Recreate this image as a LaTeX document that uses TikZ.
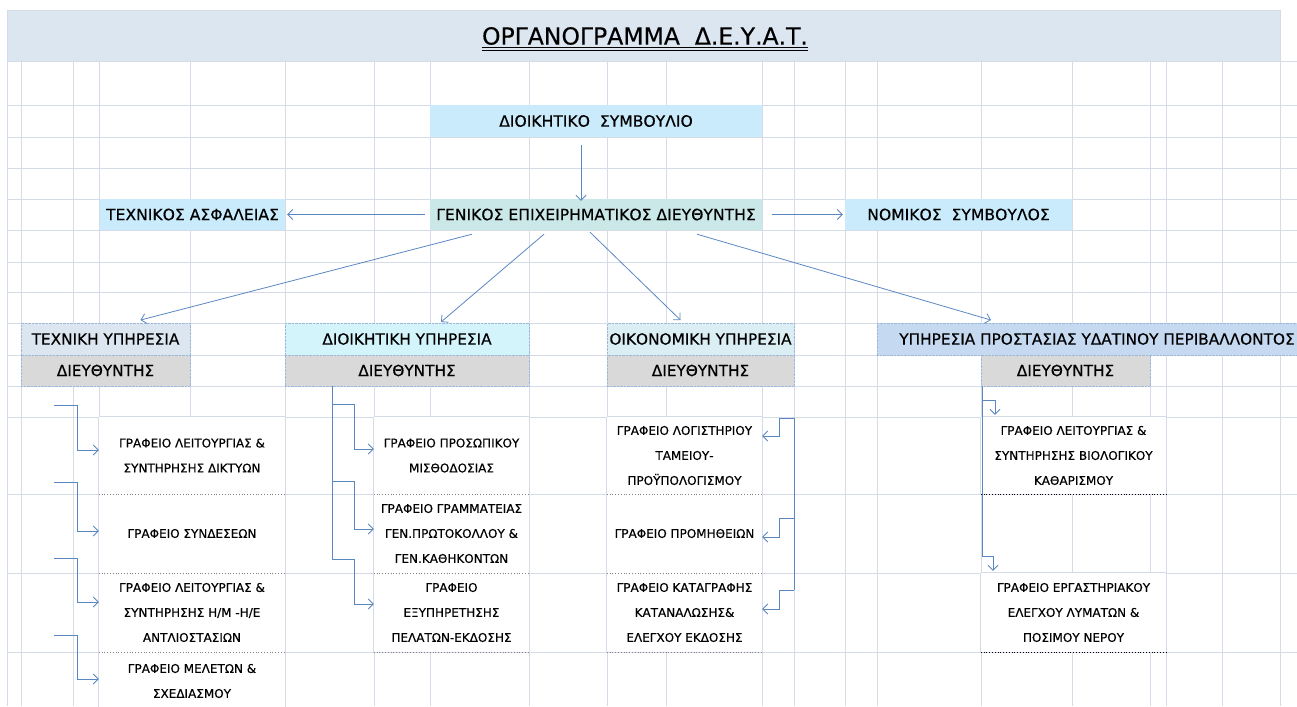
\documentclass[tikz,border=0pt]{standalone}
\usepackage{fontspec}
\setmainfont{DejaVu Sans}[FakeBold=0.4]
\usetikzlibrary{arrows.meta}
\definecolor{gridc}{HTML}{D5DCE8}
\definecolor{bandc}{HTML}{DCE6F1}
\definecolor{skyc}{HTML}{C9EBFC}
\definecolor{tealc}{HTML}{CBE8E8}
\definecolor{techc}{HTML}{DCE6F1}
\definecolor{adminc}{HTML}{D3F4FA}
\definecolor{econc}{HTML}{DAEEF3}
\definecolor{waterc}{HTML}{C5D9F1}
\definecolor{dirc}{HTML}{D9D9D9}
\definecolor{linkc}{HTML}{5B87C1}
\definecolor{dotc}{HTML}{9DB7DA}
\tikzset{
  gridline/.style={gridc, line width=0.8pt},
  headbox/.style={fill=skyc, inner sep=0pt, minimum height=31pt, font=\fontsize{15.6}{18}\selectfont},
  deptbox/.style={draw=dotc, densely dotted, inner sep=0pt, minimum height=31.5pt, font=\fontsize{15.3}{18}\selectfont},
  dirbox/.style={deptbox, fill=dirc},
  office/.style={fill=white, inner sep=0pt, align=center, font=\fontsize{12}{25}\selectfont},
  link/.style={linkc, line width=0.8pt},
  arr/.style={link, -{Straight Barb[length=5pt,width=10pt]}},
  sep/.style={gray, dotted, line width=0.8pt},
}
\begin{document}
\begin{tikzpicture}[x=1pt, y=-1pt]
\useasboundingbox (0,0) rectangle (1297,706);
% sheet
\filldraw[fill=bandc, draw=gridc] (7,10) rectangle (1280,61);
\foreach \x in {7,21,73,99,190,285,374,430,529,607,666,762,794,845,877,981,1072,1150,1166,1222,1280}
  \draw[gridline] (\x,61) -- (\x,706);
\foreach \y in {61,105,137,168,199,230,262,292,323,355,386,417,494,573,652}
  \draw[gridline] (7,\y) -- (1297,\y);

\node[font=\fontsize{23.5}{26}\selectfont, inner sep=0pt] (title) at (645,36) {ΟΡΓΑΝΟΓΡΑΜΜΑ\ \ Δ.Ε.Υ.Α.Τ.};
\draw[line width=1pt] ([yshift=-3pt]title.base west) -- ([yshift=-3pt]title.base east)
  ([yshift=-6pt]title.base west) -- ([yshift=-6pt]title.base east);

\node[headbox, minimum width=332pt, minimum height=32pt] (board) at (596,121) {ΔΙΟΙΚΗΤΙΚΟ\ \ ΣΥΜΒΟΥΛΙΟ};
\node[headbox, fill=tealc, minimum width=332pt] (gen) at (596,214.5) {ΓΕΝΙΚΟΣ ΕΠΙΧΕΙΡΗΜΑΤΙΚΟΣ ΔΙΕΥΘΥΝΤΗΣ};
\node[headbox, minimum width=185pt] (safety) at (192.5,214.5) {ΤΕΧΝΙΚΟΣ ΑΣΦΑΛΕΙΑΣ};
\node[headbox, minimum width=227pt] (legal) at (958.5,214.5) {ΝΟΜΙΚΟΣ\ \ ΣΥΜΒΟΥΛΟΣ};

\node[deptbox, fill=techc, minimum width=169pt] (tech) at (105.5,339) {ΤΕΧΝΙΚΗ ΥΠΗΡΕΣΙΑ};
\node[dirbox, minimum width=169pt] (techdir) at (105.5,370.5) {ΔΙΕΥΘΥΝΤΗΣ};
\node[deptbox, fill=adminc, minimum width=244pt] (admin) at (407,339) {ΔΙΟΙΚΗΤΙΚΗ ΥΠΗΡΕΣΙΑ};
\node[dirbox, minimum width=244pt] (admindir) at (407,370.5) {ΔΙΕΥΘΥΝΤΗΣ};
\node[deptbox, fill=econc, minimum width=187pt] (econ) at (700.5,339) {ΟΙΚΟΝΟΜΙΚΗ ΥΠΗΡΕΣΙΑ};
\node[dirbox, minimum width=187pt] (econdir) at (700.5,370.5) {ΔΙΕΥΘΥΝΤΗΣ};
\node[deptbox, fill=waterc, minimum width=440pt] (water) at (1097,339) {ΥΠΗΡΕΣΙΑ ΠΡΟΣΤΑΣΙΑΣ ΥΔΑΤΙΝΟΥ ΠΕΡΙΒΑΛΛΟΝΤΟΣ};
\node[dirbox, minimum width=169pt] (waterdir) at (1065.5,370.5) {ΔΙΕΥΘΥΝΤΗΣ};

\node[office, minimum width=186pt, minimum height=77pt] (t1) at (192,455.5) {ΓΡΑΦΕΙΟ ΛΕΙΤΟΥΡΓΙΑΣ \&\\ΣΥΝΤΗΡΗΣΗΣ ΔΙΚΤΥΩΝ};
\node[office, minimum width=186pt, minimum height=79pt] (t2) at (192,533.5) {ΓΡΑΦΕΙΟ ΣΥΝΔΕΣΕΩΝ};
\node[office, minimum width=186pt, minimum height=79pt] (t3) at (192,612.5) {ΓΡΑΦΕΙΟ ΛΕΙΤΟΥΡΓΙΑΣ \&\\ΣΥΝΤΗΡΗΣΗΣ Η/Μ -Η/Ε\\ΑΝΤΛΙΟΣΤΑΣΙΩΝ};
\node[office, minimum width=186pt, minimum height=58pt] (t4) at (192,681) {ΓΡΑΦΕΙΟ ΜΕΛΕΤΩΝ \&\\ΣΧΕΔΙΑΣΜΟΥ};
\node[office, minimum width=155pt, minimum height=77pt] (a1) at (451.5,455.5) {ΓΡΑΦΕΙΟ ΠΡΟΣΩΠΙΚΟΥ\\ΜΙΣΘΟΔΟΣΙΑΣ};
\node[office, minimum width=155pt, minimum height=79pt] (a2) at (451.5,533.5) {ΓΡΑΦΕΙΟ ΓΡΑΜΜΑΤΕΙΑΣ\\ΓΕΝ.ΠΡΩΤΟΚΟΛΛΟΥ \&\\ΓΕΝ.ΚΑΘΗΚΟΝΤΩΝ};
\node[office, minimum width=155pt, minimum height=79pt] (a3) at (451.5,612.5) {ΓΡΑΦΕΙΟ\\ΕΞΥΠΗΡΕΤΗΣΗΣ\\ΠΕΛΑΤΩΝ-ΕΚΔΟΣΗΣ};
\node[office, minimum width=155pt, minimum height=77pt] (e1) at (684.5,455.5) {ΓΡΑΦΕΙΟ ΛΟΓΙΣΤΗΡΙΟΥ\\ΤΑΜΕΙΟΥ-\\ΠΡΟΫΠΟΛΟΓΙΣΜΟΥ};
\node[office, minimum width=155pt, minimum height=79pt] (e2) at (684.5,533.5) {ΓΡΑΦΕΙΟ ΠΡΟΜΗΘΕΙΩΝ};
\node[office, minimum width=155pt, minimum height=79pt] (e3) at (684.5,612.5) {ΓΡΑΦΕΙΟ ΚΑΤΑΓΡΑΦΗΣ\\ΚΑΤΑΝΑΛΩΣΗΣ\&\\ΕΛΕΓΧΟΥ ΕΚΔΟΣΗΣ};
\node[office, minimum width=185pt, minimum height=77pt] (w1) at (1073.5,455.5) {ΓΡΑΦΕΙΟ ΛΕΙΤΟΥΡΓΙΑΣ \&\\ΣΥΝΤΗΡΗΣΗΣ ΒΙΟΛΟΓΙΚΟΥ\\ΚΑΘΑΡΙΣΜΟΥ};
\node[office, minimum width=185pt, minimum height=79pt] (w2) at (1073.5,612.5) {ΓΡΑΦΕΙΟ ΕΡΓΑΣΤΗΡΙΑΚΟΥ\\ΕΛΕΓΧΟΥ ΛΥΜΑΤΩΝ \&\\ΠΟΣΙΜΟΥ ΝΕΡΟΥ};

\foreach \c in {t1,t2,t3,t4,a1,a2,a3,e1,e2,e3,w1,w2}
  \draw[gridline] (\c.south west) -- (\c.north west) (\c.north east) -- (\c.south east);
\foreach \c in {t1,a1,e1,w1,w2}
  \draw[gridline] (\c.north west) -- (\c.north east);
\foreach \c in {t1,t2,t3,a1,a2,a3,e1,e2,e3}
  \draw[sep] (\c.south west) -- (\c.south east);
\foreach \c in {w1,w2}
  \draw[sep, black] (\c.south west) -- (\c.south east);

\draw[arr] ([shift={(-15,8)}]board.south) -- ([shift={(-15,2)}]gen.north);
\draw[arr] ([xshift=-5pt]gen.west) -- ([xshift=2pt]safety.east);
\draw[arr] ([xshift=10pt]gen.east) -- ([xshift=-2pt]legal.west);
\draw[arr] ([shift={(-124,4)}]gen.south) -- ([shift={(35,-3)}]tech.north);
\draw[arr] ([shift={(-52,4)}]gen.south) -- ([shift={(34,-1)}]admin.north);
\draw[arr] ([shift={(-6,2)}]gen.south) -- ([shift={(-20,-3)}]econ.north);
\draw[arr] ([shift={(101,4)}]gen.south) -- ([shift={(-106,-3)}]water.north);

\foreach \c/\ys/\ye in {t1/405/450, t2/482/531, t3/558/602, t4/635/679}{
  \coordinate (s\c) at (54,\ys);
  \coordinate (k\c) at (77,\ye);
  \draw[arr] (s\c) -| (k\c) -- (k\c -| \c.west);
}
\coordinate (atrunk) at (332,559);
\draw[link] (atrunk |- admindir.south) -- (atrunk);
\foreach \c/\ys/\ye in {a1/404/449, a2/481/529, a3/559/604}{
  \coordinate (s\c) at (332,\ys);
  \coordinate (k\c) at (354,\ye);
  \draw[arr] (s\c) -| (k\c) -- (k\c -| \c.west);
}
\coordinate (etrunk) at (794,590);
\foreach \c/\ys/\ye in {e1/418/436, e2/518/537, e3/590/609}{
  \coordinate (s\c) at (794,\ys);
  \coordinate (k\c) at (779,\ye);
  \draw[arr] (s\c) -| (k\c) -- (k\c -| \c.east);
}
\draw[link] (se1) -- (etrunk);
\coordinate (wtrunk) at (982,556);
\draw[link] (wtrunk |- waterdir.south) -- (wtrunk);
\foreach \c/\ys/\xe in {w1/400/995, w2/556/993}{
  \coordinate (s\c) at (982,\ys);
  \coordinate (k\c) at (\xe,\ys);
  \draw[arr, shorten >=2pt] (s\c) -- (k\c) -- (k\c |- \c.north);
}
\end{tikzpicture}
\end{document}
